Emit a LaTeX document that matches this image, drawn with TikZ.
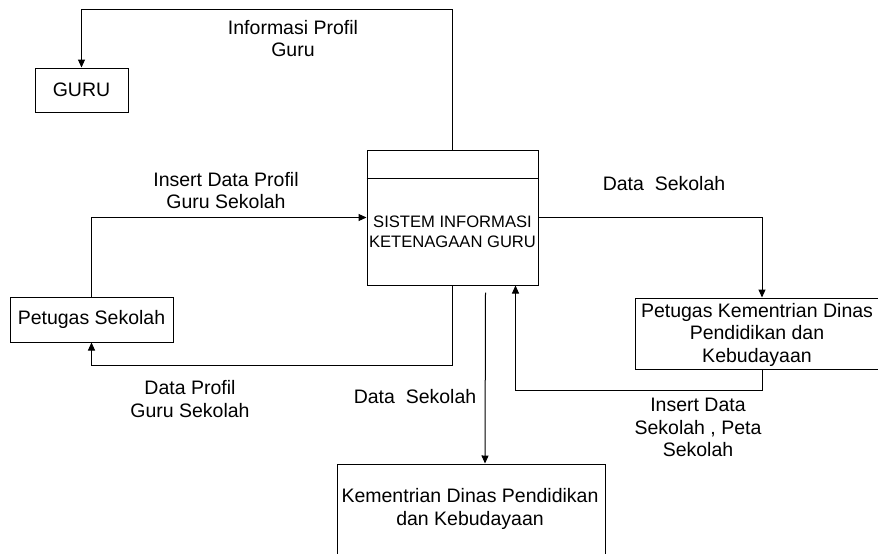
\documentclass[tikz,border=0pt]{standalone}
\usepackage{fontspec}
\setmainfont{Liberation Sans}
\usetikzlibrary{arrows.meta}
\begin{document}
\begin{tikzpicture}[x=1pt,y=-1pt,
  box/.style={draw=black,line width=1pt,inner sep=0pt,align=center},
  lbl/.style={inner sep=0pt,align=center,font=\fontsize{19.5}{22.5}\selectfont},
  small/.style={inner sep=0pt,align=center,font=\fontsize{16.6}{20}\selectfont},
  arr/.style={draw=black,line width=1pt,-{Triangle[length=8pt,width=7pt]}},
  ln/.style={draw=black,line width=1pt}]
\useasboundingbox (0,0) rectangle (878,554);
\fill[white] (0,0) rectangle (878,554);
% boxes
\node[box,minimum width=93pt,minimum height=44pt,font=\fontsize{19.5}{21.5}\selectfont] (guru) at (81.5,90) {GURU};
\node[box,minimum width=171pt,minimum height=135pt] (sys) at (452.5,217.5) {};
\draw[ln] (sys.west |- 0,178) -- (sys.east |- 0,178);
\node[small] (systxt) at (452.5,232) {SISTEM INFORMASI\\KETENAGAAN GURU};
\node[box,minimum width=163pt,minimum height=45pt,font=\fontsize{19.5}{21.5}\selectfont] (ps) at (91.5,319.5) {Petugas Sekolah};
\node[box,minimum width=245pt,minimum height=71pt] (pk) at (757.5,333.5) {};
\node[lbl] (pktxt) at (757,334.5) {Petugas Kementrian Dinas\\Pendidikan dan\\Kebudayaan};
\node[box,minimum width=268pt,minimum height=100pt] (km) at (471,514) {};
\node[lbl] (kmtxt) at (470,509) {Kementrian Dinas Pendidikan\\dan Kebudayaan};
% connectors
\draw[arr] (sys.north) -- ++(0,-140) -| (guru.north);
\draw[arr] (ps.north) |- (sys.west);
\draw[arr] (sys.south) -- ++(0,80) -| (ps.south);
\draw[arr] (sys.east) -| ([xshift=4.5pt]pk.north);
\draw[arr] ([xshift=4.5pt]pk.south) -- ++(0,21) -| ([xshift=63pt]sys.south);
\draw[arr] ([xshift=33pt,yshift=-7pt]sys.south) -- ([xshift=14pt]km.north);
% labels
\node[lbl] (l1) at (293,38.5) {Informasi Profil\\Guru};
\node[lbl] (l2) at (226,190.5) {Insert Data Profil\\Guru Sekolah};
\node[lbl] (l3) at (190,399) {Data Profil\\Guru Sekolah};
\node[lbl] (l4) at (664,184) {Data\ \ Sekolah};
\node[lbl] (l5) at (415,397) {Data\ \ Sekolah};
\node[lbl] (l6) at (698,427.5) {Insert Data\\Sekolah , Peta\\Sekolah};
\end{tikzpicture}
\end{document}
